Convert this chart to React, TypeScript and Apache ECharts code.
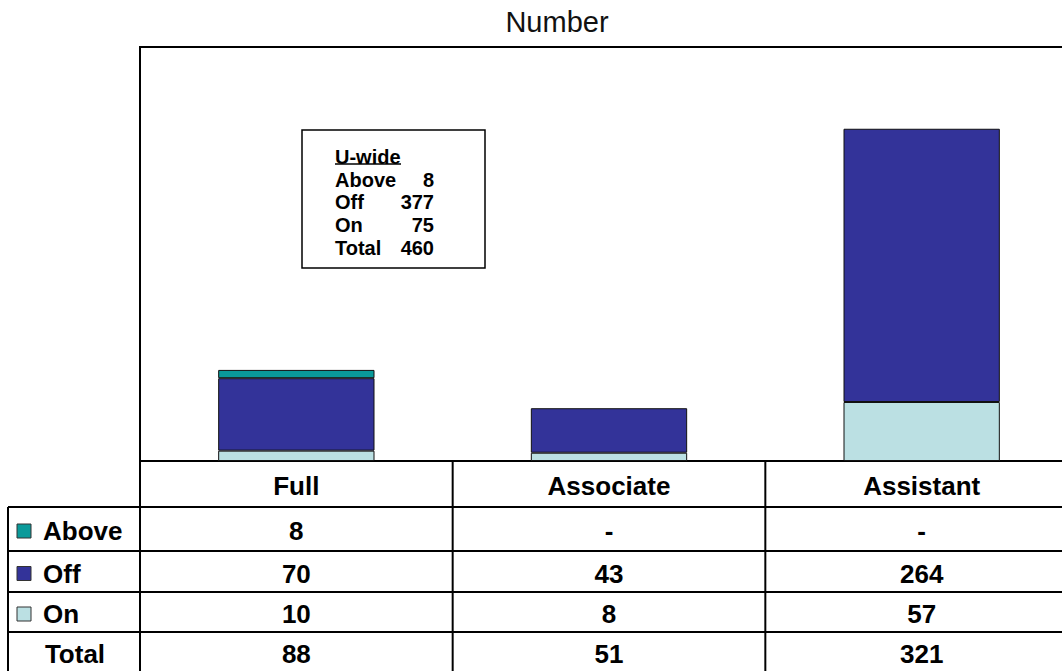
import React, { useEffect, useRef } from "react";
import * as echarts from "echarts";

const categories = ["Full", "Associate", "Assistant"];
const seriesNames = ["Above", "Off", "On"];
const aboveValues: (number | null)[] = [8, null, null];
const offValues: (number | null)[] = [70, 43, 264];
const onValues: (number | null)[] = [10, 8, 57];
const totalValues = [88, 51, 321];
const seriesColors = ["#0A9A9A", "#333399", "#BBE0E3"];
const uwideLabels = ["Above", "Off", "On", "Total"];
const uwideValues = [8, 377, 75, 460];

const FONT = "'Liberation Sans', Arial, sans-serif";

export default function App() {
  const ref = useRef<HTMLDivElement>(null);
  useEffect(() => {
    if (!ref.current) return;
    const chart = echarts.init(ref.current, null, { renderer: "svg" });
    const gridLeft = 140;
    const gridTop = 47;
    const gridWidth = 938;
    const gridHeight = 414;
    const colW = gridWidth / categories.length;
    const axisY = gridTop + gridHeight;
    const rowLines = [461, 507, 551, 592, 632, 672];
    const lineStyle = { stroke: "#000", lineWidth: 2 };
    const g: any[] = [];

    // title
    g.push({
      type: "text",
      x: 557,
      y: 22,
      style: { text: "Number", font: `29px ${FONT}`, fill: "#111", align: "center", verticalAlign: "middle" },
    });

    // U-wide box
    g.push({ type: "rect", shape: { x: 302, y: 130, width: 183, height: 138 }, style: { fill: "#fff", stroke: "#000", lineWidth: 1.5 } });
    g.push({ type: "text", x: 335, y: 157, style: { text: "U-wide", font: `bold 20px ${FONT}`, fill: "#000", align: "left", verticalAlign: "middle" } });
    g.push({ type: "line", shape: { x1: 335, y1: 164, x2: 401, y2: 164 }, style: { stroke: "#000", lineWidth: 1.5 } });
    const uY = [180, 202, 225, 248];
    uwideLabels.forEach((lab, i) => {
      g.push({ type: "text", x: 335, y: uY[i], style: { text: lab, font: `bold 20px ${FONT}`, fill: "#000", align: "left", verticalAlign: "middle" } });
      g.push({ type: "text", x: 434, y: uY[i], style: { text: String(uwideValues[i]), font: `bold 20px ${FONT}`, fill: "#000", align: "right", verticalAlign: "middle" } });
    });

    // table horizontal lines
    for (let i = 1; i < rowLines.length; i++) {
      g.push({ type: "line", shape: { x1: 8, y1: rowLines[i], x2: 1080, y2: rowLines[i] }, style: lineStyle });
    }
    // vertical lines
    for (let c = 0; c <= categories.length; c++) {
      const x = gridLeft + c * colW;
      g.push({ type: "line", shape: { x1: x, y1: axisY, x2: x, y2: 675 }, style: lineStyle });
    }
    g.push({ type: "line", shape: { x1: 8, y1: rowLines[1], x2: 8, y2: 675 }, style: lineStyle });

    const mid = (r: number) => (rowLines[r] + rowLines[r + 1]) / 2 + 2;
    const cellFont = `bold 26px ${FONT}`;
    // header
    categories.forEach((c, i) => {
      g.push({ type: "text", x: gridLeft + (i + 0.5) * colW, y: mid(0), style: { text: c, font: cellFont, fill: "#000", align: "center", verticalAlign: "middle" } });
    });
    const rows: (number | null)[][] = [aboveValues, offValues, onValues];
    rows.forEach((vals, r) => {
      const y = mid(r + 1);
      g.push({ type: "rect", shape: { x: 17, y: y - 7, width: 14, height: 14 }, style: { fill: seriesColors[r], stroke: "#333", lineWidth: 1 } });
      g.push({ type: "text", x: 43, y, style: { text: seriesNames[r], font: cellFont, fill: "#000", align: "left", verticalAlign: "middle" } });
      vals.forEach((v, i) => {
        g.push({ type: "text", x: gridLeft + (i + 0.5) * colW, y, style: { text: v == null ? "-" : String(v), font: cellFont, fill: "#000", align: "center", verticalAlign: "middle" } });
      });
    });
    const ty = mid(4);
    g.push({ type: "text", x: 75, y: ty, style: { text: "Total", font: cellFont, fill: "#000", align: "center", verticalAlign: "middle" } });
    totalValues.forEach((v, i) => {
      g.push({ type: "text", x: gridLeft + (i + 0.5) * colW, y: ty, style: { text: String(v), font: cellFont, fill: "#000", align: "center", verticalAlign: "middle" } });
    });

    const mk = (name: string, data: (number | null)[], color: string) => ({
      name,
      type: "bar",
      stack: "s",
      barWidth: "50%",
      data,
      itemStyle: { color, borderColor: "#111", borderWidth: 1 },
    });

    chart.setOption({
      animation: false,
      grid: { left: gridLeft, top: gridTop, width: gridWidth, height: gridHeight, show: true, borderColor: "#000", borderWidth: 2, backgroundColor: "transparent" },
      xAxis: {
        type: "category",
        data: categories,
        axisLine: { show: true, lineStyle: { color: "#000", width: 2 } },
        axisTick: { show: false },
        axisLabel: { show: false },
      },
      yAxis: { type: "value", min: 0, max: 400, show: false, splitLine: { show: false } },
      series: [mk("On", onValues, seriesColors[2]), mk("Off", offValues, seriesColors[1]), mk("Above", aboveValues, seriesColors[0])],
      graphic: g,
    });
    return () => chart.dispose();
  }, []);
  return (
    <div style={{ position: "fixed", left: 0, top: 0, width: 1062, height: 671, overflow: "hidden", background: "#fff" }}>
      <div ref={ref} style={{ width: 1086, height: 671 }} />
    </div>
  );
}
